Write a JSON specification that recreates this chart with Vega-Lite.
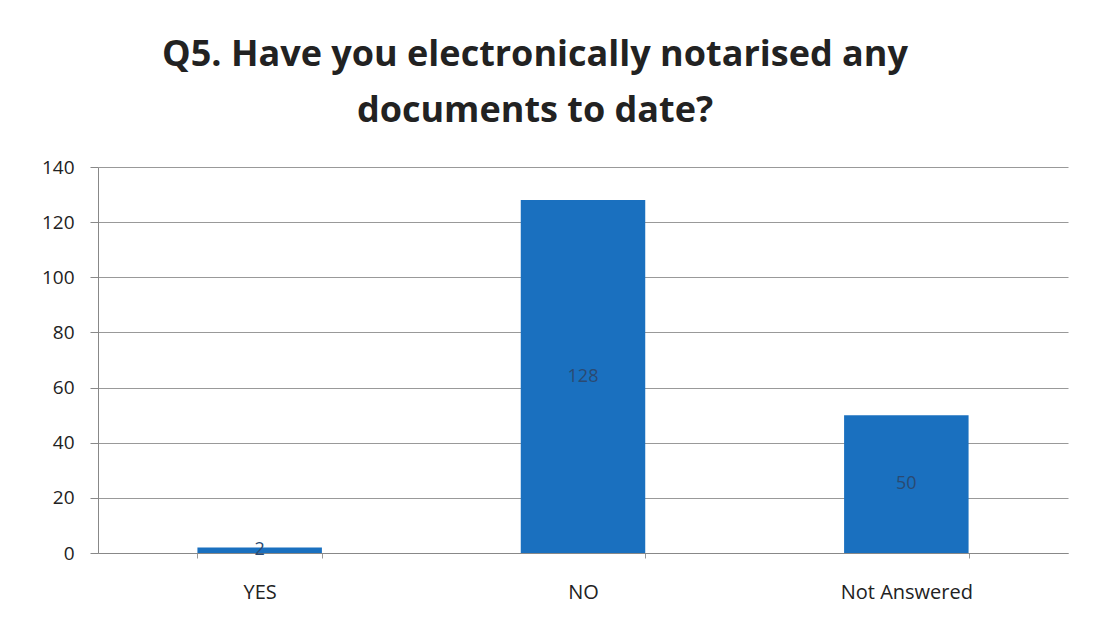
{
  "$schema": "https://vega.github.io/schema/vega-lite/v6.json",
  "width": 970,
  "height": 386,
  "autosize": {"type": "none"},
  "padding": {"left": 98, "top": 167, "right": 26, "bottom": 78},
  "background": "white",
  "title": {
    "text": ["Q5. Have you electronically notarised any", "documents to date?"],
    "font": "Open Sans",
    "fontSize": 36,
    "fontWeight": "bold",
    "color": "#222222",
    "anchor": "middle",
    "dx": -48,
    "offset": 28,
    "lineHeight": 56
  },
  "data": {
    "values": [
      {"answer": "YES", "count": 2},
      {"answer": "NO", "count": 128},
      {"answer": "Not Answered", "count": 50}
    ]
  },
  "encoding": {
    "x": {
      "field": "answer",
      "type": "nominal",
      "sort": null,
      "title": null,
      "scale": {"paddingInner": 0.615, "paddingOuter": 0.3075},
      "axis": {
        "labelAngle": 0,
        "labelFont": "Open Sans",
        "labelFontSize": 20,
        "labelColor": "#222222",
        "labelPadding": 24,
        "tickBand": "extent",
        "tickSize": 5,
        "tickColor": "#999999",
        "domainColor": "#888888",
        "grid": false
      }
    },
    "y": {
      "field": "count",
      "type": "quantitative",
      "title": null,
      "scale": {"domain": [0, 140]},
      "axis": {
        "values": [0, 20, 40, 60, 80, 100, 120, 140],
        "labelFont": "Open Sans",
        "labelFontSize": 19,
        "labelColor": "#222222",
        "labelPadding": 16,
        "tickSize": 8,
        "tickColor": "#888888",
        "domainColor": "#888888",
        "gridColor": "#999999",
        "gridWidth": 1
      }
    }
  },
  "layer": [
    {"mark": {"type": "bar", "color": "#1a70bf"}},
    {
      "transform": [{"calculate": "datum.count / 2", "as": "labelPos"}],
      "mark": {"type": "text", "font": "Open Sans", "fontSize": 18, "color": "#2a4a72", "baseline": "middle"},
      "encoding": {
        "y": {"field": "labelPos", "type": "quantitative"},
        "text": {"field": "count", "type": "quantitative"}
      }
    }
  ],
  "config": {"view": {"stroke": null}}
}
